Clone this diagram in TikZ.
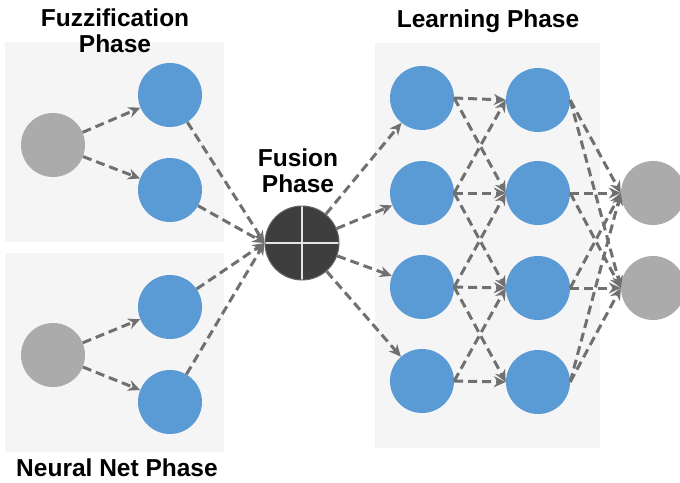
\documentclass[tikz,border=0pt]{standalone}
\usepackage{fontspec}
\setmainfont{Liberation Sans}
\usetikzlibrary{arrows.meta}
\definecolor{nodeblue}{HTML}{5B9BD5}
\definecolor{nodegray}{HTML}{ABABAB}
\definecolor{fusegray}{HTML}{3E3E3E}
\definecolor{linkgray}{HTML}{707070}
\definecolor{panelgray}{HTML}{F5F5F5}
\begin{document}
\begin{tikzpicture}[x=1pt, y=-1pt]
        \tikzstyle{neuron}=[circle, minimum size=64pt, inner sep=0pt]
        \tikzstyle{hidden}=[neuron, fill=nodeblue]
        \tikzstyle{io}=[neuron, fill=nodegray]
        \tikzstyle{fuse}=[circle, minimum size=74pt, inner sep=0pt,
            fill=fusegray, draw=black!60, line width=1pt,
            path picture={\draw[white!90!black, line width=1.3pt]
                (path picture bounding box.north) -- (path picture bounding box.south)
                (path picture bounding box.west) -- (path picture bounding box.east);}]
        \tikzstyle{link}=[draw=linkgray, line width=3pt,
            dash pattern=on 9pt off 5pt, -{Stealth[length=12pt, width=11pt]}]
        \tikzstyle{title}=[font=\fontsize{24.5}{26}\selectfont\bfseries,
            align=center, inner sep=0pt]

        \useasboundingbox (0,0) rectangle (680,482);
        \fill[panelgray] (5,42) rectangle (224,242);
        \fill[panelgray] (5,253) rectangle (224,452);
        \fill[panelgray] (375,43) rectangle (600,448);

        \node[title] (fuzzyT) at (115,31) {Fuzzification\\Phase};
        \node[title] (neuralT) at (117,468) {Neural Net Phase};
        \node[title] (fuseT) at (298,171) {Fusion\\Phase};
        \node[title] (learnT) at (488,21) {Learning Phase};

        \node[io] (In1) at (53,145) {};
        \node[hidden] (F1) at (170,95) {};
        \node[hidden] (F2) at (170,190) {};
        \node[io] (In2) at (53,355) {};
        \node[hidden] (N1) at (170,307) {};
        \node[hidden] (N2) at (170,402) {};
        \node[fuse] (Fu) at (302,243) {};
        \node[hidden] (L1) at (422,98) {};
        \node[hidden] (L2) at (422,193) {};
        \node[hidden] (L3) at (422,287) {};
        \node[hidden] (L4) at (422,381) {};
        \node[hidden] (M1) at (538,100) {};
        \node[hidden] (M2) at (538,193) {};
        \node[hidden] (M3) at (538,288) {};
        \node[hidden] (M4) at (538,382) {};
        \node[io] (O1) at (653,193) {};
        \node[io] (O2) at (653,288) {};

        \draw[link] (In1) to (F1);
        \draw[link] (In1) to (F2);
        \draw[link] (In2) to (N1);
        \draw[link] (In2) to (N2);
        \draw[link] (F1) to (Fu.west);
        \draw[link] (F2) to (Fu.west);
        \draw[link] (N1) to (Fu.west);
        \draw[link] (N2) to (Fu.west);

        \draw[link] (Fu) to (L1);
        \draw[link] (Fu) to (L2);
        \draw[link] (Fu) to (L3);
        \draw[link] (Fu) to (L4);

        \draw[link] (L1.east) to (M1.west);
        \draw[link] (L1.east) to (M2.west);
        \draw[link] (L2.east) to (M1.west);
        \draw[link] (L2.east) to (M2.west);
        \draw[link] (L2.east) to (M3.west);
        \draw[link] (L3.east) to (M2.west);
        \draw[link] (L3.east) to (M3.west);
        \draw[link] (L3.east) to (M4.west);
        \draw[link] (L4.east) to (M3.west);
        \draw[link] (L4.east) to (M4.west);

        \draw[link] (M1.east) to (O1.west);
        \draw[link] (M1.east) to (O2.west);
        \draw[link] (M2.east) to (O1.west);
        \draw[link] (M2.east) to (O2.west);
        \draw[link] (M3.east) to (O1.west);
        \draw[link] (M3.east) to (O2.west);
        \draw[link] (M4.east) to (O1.west);
        \draw[link] (M4.east) to (O2.west);

    \end{tikzpicture}
\end{document}
